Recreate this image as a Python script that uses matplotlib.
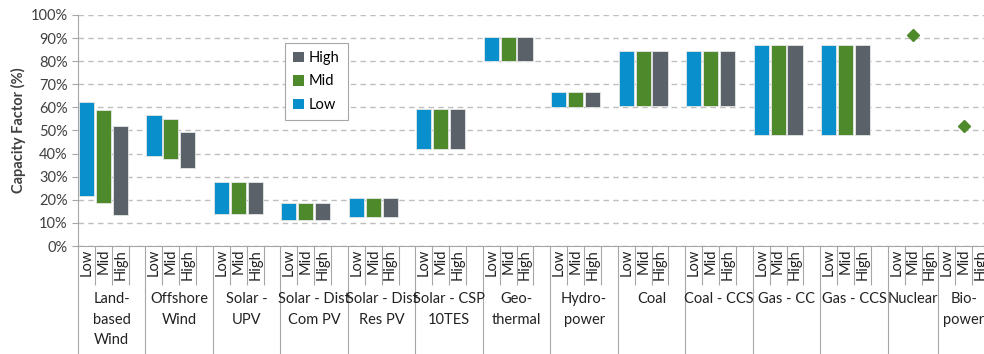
import numpy as np
import matplotlib
matplotlib.use("Agg")
import matplotlib.pyplot as plt
from matplotlib.patches import Patch

plt.rcParams['font.family'] = ['Lato', 'DejaVu Sans']

# data (capacity factor %, bottom/top of each range)
groups = ["Land-\nbased\nWind", "Offshore\nWind", "Solar -\nUPV", "Solar - Dist\nCom PV",
          "Solar - Dist\nRes PV", "Solar - CSP\n10TES", "Geo-\nthermal", "Hydro-\npower",
          "Coal", "Coal - CCS", "Gas - CC", "Gas - CCS", "Nuclear", "Bio-\npower"]
n_slots = [4] * 12 + [3, 3]
cases = ["Low", "Mid", "High"]

low_bottom = [21.5, 39.0, 14.0, 11.3, 12.7, 42.2, 80.0, 60.0, 60.8, 60.8, 48.1, 48.1]
low_top = [62.3, 56.7, 27.8, 18.5, 20.8, 59.1, 90.3, 66.8, 84.6, 84.6, 86.8, 86.8]
mid_bottom = [18.6, 37.7, 14.0, 11.3, 12.7, 42.2, 80.0, 60.0, 60.8, 60.8, 48.1, 48.1]
mid_top = [59.0, 55.0, 27.8, 18.5, 20.8, 59.1, 90.3, 66.8, 84.6, 84.6, 86.8, 86.8]
high_bottom = [13.4, 33.8, 14.0, 11.3, 12.7, 42.2, 80.0, 60.0, 60.8, 60.8, 48.1, 48.1]
high_top = [52.0, 49.3, 27.8, 18.5, 20.8, 59.1, 90.3, 66.8, 84.6, 84.6, 86.8, 86.8]
point_groups = ["Nuclear", "Bio-\npower"]
point_mid = [91.5, 52.0]

colors = {"Low": "#0A8FCD", "Mid": "#4E8A2B", "High": "#5B6168"}

fig = plt.figure(figsize=(9.84, 3.54), dpi=100)
W, H = 984, 354
slot_px = 16.87
total = sum(n_slots)
ax = fig.add_axes([78 / W, 108 / H, total * slot_px / W, 231 / H])

starts = np.concatenate([[0], np.cumsum(n_slots)[:-1]])
ranges = {"Low": (low_bottom, low_top), "Mid": (mid_bottom, mid_top), "High": (high_bottom, high_top)}
for k, c in enumerate(cases):
    bot, top = ranges[c]
    n = len(bot)
    x = starts[:n] + k + 0.5
    ax.bar(x, np.array(top) - np.array(bot), bottom=bot, width=0.9,
           color=colors[c], edgecolor="#e6e6e6", linewidth=0.6, zorder=3)

for g, v in zip(point_groups, point_mid):
    i = groups.index(g)
    ax.plot(starts[i] + 1.5, v, marker="D", markersize=6.5, color=colors["Mid"],
            linestyle="none", zorder=4, clip_on=False)

ax.set_xlim(0, total)
ax.set_ylim(0, 100)
ax.set_yticks(np.arange(0, 101, 10))
ax.set_yticklabels([f"{v}%" for v in range(0, 101, 10)], fontsize=10.5, color="#404040")
ax.yaxis.grid(True, linestyle=(0, (4, 3)), color="#BFBFBF", linewidth=1, zorder=0)
ax.set_ylabel("Capacity Factor (%)", fontsize=10.5, fontweight="bold", color="#404040", labelpad=3)

# multi-level category axis: long ticks at group edges, short ticks at slot edges
bounds = np.concatenate([[0], np.cumsum(n_slots)])
ax.set_xticks(bounds)
ax.set_xticklabels([])
ax.set_xticks(np.arange(total + 1), minor=True)
ax.tick_params(axis="x", which="major", length=78, width=0.8, color="#A6A6A6", direction="out")
ax.tick_params(axis="x", which="minor", length=28, width=0.8, color="#A6A6A6", direction="out")
ax.tick_params(axis="y", length=4, color="#A6A6A6")

for i, g in enumerate(groups):
    for k in range(3):
        ax.text(starts[i] + k + 0.5, -0.012, cases[k], transform=ax.get_xaxis_transform(),
                rotation=90, ha="center", va="top", fontsize=10.5, color="#222222", clip_on=False)
    ax.text(starts[i] + n_slots[i] / 2, -0.2, g, transform=ax.get_xaxis_transform(),
            ha="center", va="top", fontsize=10.5, color="#222222", linespacing=1.6)

for s in ["top", "right"]:
    ax.spines[s].set_visible(False)
for s in ["left", "bottom"]:
    ax.spines[s].set_color("#A6A6A6")
    ax.spines[s].set_linewidth(0.8)

handles = [Patch(facecolor=colors[c], edgecolor="none") for c in reversed(cases)]
leg = ax.legend(handles, list(reversed(cases)), loc="upper left", bbox_to_anchor=(0.227, 0.879),
                borderaxespad=0, fontsize=10.5, handlelength=0.75, handleheight=0.75,
                handletextpad=0.35, labelspacing=0.65, borderpad=0.55, fancybox=False, framealpha=1)
leg.get_frame().set_edgecolor("#A6A6A6")
leg.get_frame().set_linewidth(0.8)

fig.savefig("out.png", dpi=100)
